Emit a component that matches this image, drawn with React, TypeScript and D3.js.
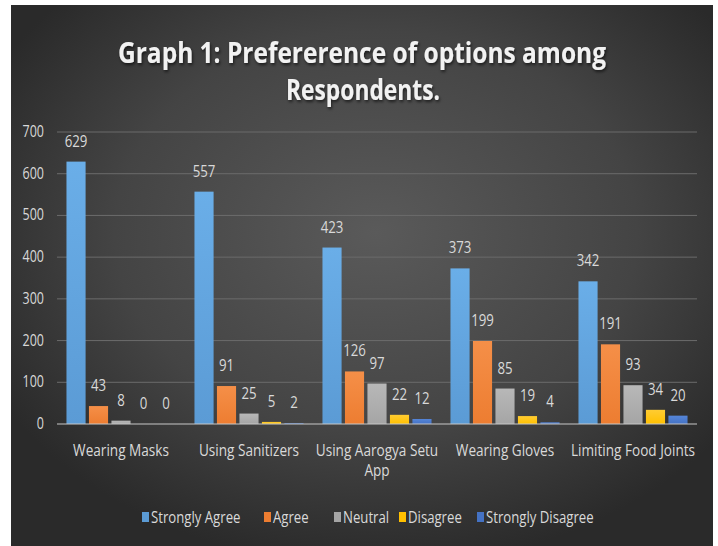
import React from "react";
import * as d3 from "d3";

const categories = ["Wearing Masks", "Using Sanitizers", "Using Aarogya Setu App", "Wearing Gloves", "Limiting Food Joints"];
const categoryLines = [["Wearing Masks"], ["Using Sanitizers"], ["Using Aarogya Setu", "App"], ["Wearing Gloves"], ["Limiting Food Joints"]];
const seriesNames = ["Strongly Agree", "Agree", "Neutral", "Disagree", "Strongly Disagree"];
const stronglyAgree = [629, 557, 423, 373, 342];
const agree = [43, 91, 126, 199, 191];
const neutral = [8, 25, 97, 85, 93];
const disagree = [0, 5, 22, 19, 34];
const stronglyDisagree = [0, 2, 12, 4, 20];
const yTicks = [0, 100, 200, 300, 400, 500, 600, 700];
const seriesColors = ["#5B9BD5", "#ED7D31", "#A5A5A5", "#FFC000", "#4472C4"];
const seriesTopColors = ["#6aaee8", "#f58f48", "#b8b8b8", "#ffcc33", "#5585d8"];

const allSeries = [stronglyAgree, agree, neutral, disagree, stronglyDisagree];

const W = 718;
const H = 546;
const FONT = "'Open Sans', sans-serif";

function NText(props: { x: number; y: number; anchor?: string; size: number; sx?: number; children: React.ReactNode; fill?: string }) {
  const { x, y, anchor = "start", size, sx = 0.78, children, fill = "#d9d9d9" } = props;
  return (
    <g transform={`translate(${x},${y}) scale(${sx},1)`}>
      <text x={0} y={0} textAnchor={anchor} fontSize={size} fill={fill}>{children}</text>
    </g>
  );
}

export default function App() {
  const x0 = d3.scaleBand<string>().domain(categories).range([57, 697]).paddingInner(0.148).paddingOuter(0.074);
  const x1 = d3.scaleBand<string>().domain(seriesNames).range([0, x0.bandwidth()]).paddingInner(0.15).paddingOuter(0);
  const y = d3.scaleLinear().domain([0, 700]).range([424, 132]);

  const legendItems = [
    { name: seriesNames[0], x: 142 },
    { name: seriesNames[1], x: 264 },
    { name: seriesNames[2], x: 334 },
    { name: seriesNames[3], x: 399 },
    { name: seriesNames[4], x: 477 },
  ];

  return (
    <svg width={W} height={H} style={{ position: "absolute", left: 0, top: 0, display: "block" }} fontFamily={FONT}>
      <defs>
        <radialGradient id="bg" cx="52%" cy="42%" r="62%">
          <stop offset="0%" stopColor="#5a5a5a" />
          <stop offset="60%" stopColor="#444444" />
          <stop offset="100%" stopColor="#2a2a2a" />
        </radialGradient>
        {seriesColors.map((c, i) => (
          <linearGradient key={i} id={`g${i}`} x1="0" y1="0" x2="0" y2="1">
            <stop offset="0%" stopColor={seriesTopColors[i]} />
            <stop offset="100%" stopColor={c} />
          </linearGradient>
        ))}
        <filter id="shadow" x="-10%" y="-30%" width="120%" height="160%">
          <feDropShadow dx="1" dy="2" stdDeviation="1.5" floodColor="#000" floodOpacity="0.6" />
        </filter>
      </defs>
      <rect x={0} y={0} width={W} height={H} fill="#ffffff" />
      <rect x={11} y={5} width={702} height={541} fill="url(#bg)" />

      <g filter="url(#shadow)" fill="#f2f2f2" fontWeight="bold" fontSize={29} textAnchor="middle">
        <text x={362} y={63} textLength={488} lengthAdjust="spacingAndGlyphs">Graph 1: Prefererence of options among</text>
        <text x={363} y={100} textLength={154} lengthAdjust="spacingAndGlyphs">Respondents.</text>
      </g>

      {yTicks.map((t) => (
        <g key={t}>
          {t > 0 && <line x1={57} x2={697} y1={y(t)} y2={y(t)} stroke="#6b6b6b" strokeWidth={1} />}
          <NText x={44} y={y(t) + 5} anchor="end" size={16}>{t}</NText>
        </g>
      ))}

      {categories.map((c, ci) => (
        <g key={c} transform={`translate(${x0(c)},0)`}>
          {seriesNames.map((s, si) => {
            const v = allSeries[si][ci];
            const bx = x1(s)!;
            return (
              <g key={s}>
                <rect x={bx} y={y(v)} width={x1.bandwidth()} height={y(0) - y(v)} fill={`url(#g${si})`} />
                <NText x={bx + x1.bandwidth() / 2} y={y(v) - 15} anchor="middle" size={17}>{v}</NText>
              </g>
            );
          })}
        </g>
      ))}

      <line x1={57} x2={697} y1={y(0)} y2={y(0)} stroke="#c8c8c8" strokeWidth={1.2} />

      {categories.map((c, ci) => (
        <g key={c}>
          {categoryLines[ci].map((l, li) => (
            <NText key={li} x={x0(c)! + x0.bandwidth() / 2} y={456 + li * 20} anchor="middle" size={16} sx={0.85}>{l}</NText>
          ))}
        </g>
      ))}

      {legendItems.map((it, i) => (
        <g key={it.name}>
          <rect x={it.x} y={512} width={7} height={10} fill={seriesColors[i]} />
          <NText x={it.x + 9} y={523} size={15.5} sx={0.85}>{it.name}</NText>
        </g>
      ))}
    </svg>
  );
}
